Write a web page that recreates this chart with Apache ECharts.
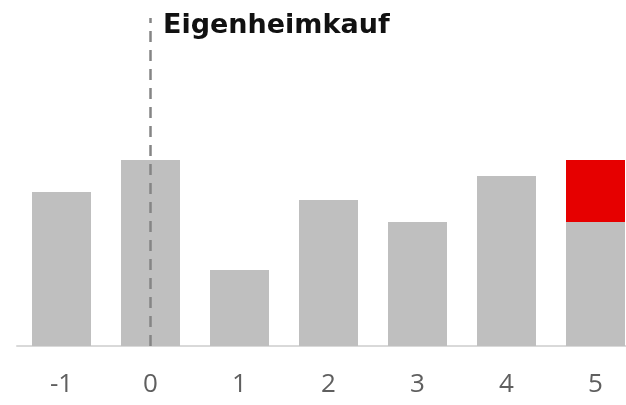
<!DOCTYPE html>
<html>
<head>
<meta charset="utf-8">
<script src="https://cdn.jsdelivr.net/npm/echarts@6/dist/echarts.min.js"></script>
<style>
  html, body { margin: 0; padding: 0; background: #fff; }
  #chart { width: 626px; height: 405px; }
</style>
</head>
<body>
<div id="chart"></div>
<script>
const categories = ['-1', '0', '1', '2', '3', '4', '5']
const baseValues = [154, 186, 76, 146, 124, 170, 124]
const extraValues = [null, null, null, null, null, null, 62]
const eventCategory = '0'
const eventLabel = 'Eigenheimkauf'

const chart = echarts.init(document.getElementById('chart'))
chart.setOption({
  animation: false,
  title: {
    text: eventLabel,
    left: 158, top: 7,
    textStyle: { fontFamily: 'DejaVu Sans', fontWeight: 'bold', fontSize: 27, color: '#111' },
  },
  grid: { left: 17, width: 623, top: 0, bottom: 59, outerBoundsMode: 'none', containLabel: false },
  xAxis: {
    type: 'category',
    data: categories,
    axisTick: { show: false },
    axisLine: { lineStyle: { color: '#d9d9d9', width: 2 } },
    axisLabel: { fontFamily: 'Open Sans', fontSize: 26, color: '#5f5f5f', margin: 26 },
  },
  yAxis: { type: 'value', min: 0, max: 346, show: false, splitLine: { show: false } },
  series: [
    {
      type: 'bar',
      stack: 'a',
      data: baseValues,
      barWidth: 59,
      itemStyle: { color: '#bfbfbf' },
      markLine: {
        silent: true,
        symbol: 'none',
        label: { show: false },
        lineStyle: { color: '#858585', type: [11, 8], width: 2.5 },
        data: [[{ coord: [eventCategory, 0] }, { coord: [eventCategory, 328] }]],
      },
    },
    {
      type: 'bar',
      stack: 'a',
      data: extraValues,
      barWidth: 59,
      itemStyle: { color: '#e60000' },
    },
  ],
})
</script>
</body>
</html>
